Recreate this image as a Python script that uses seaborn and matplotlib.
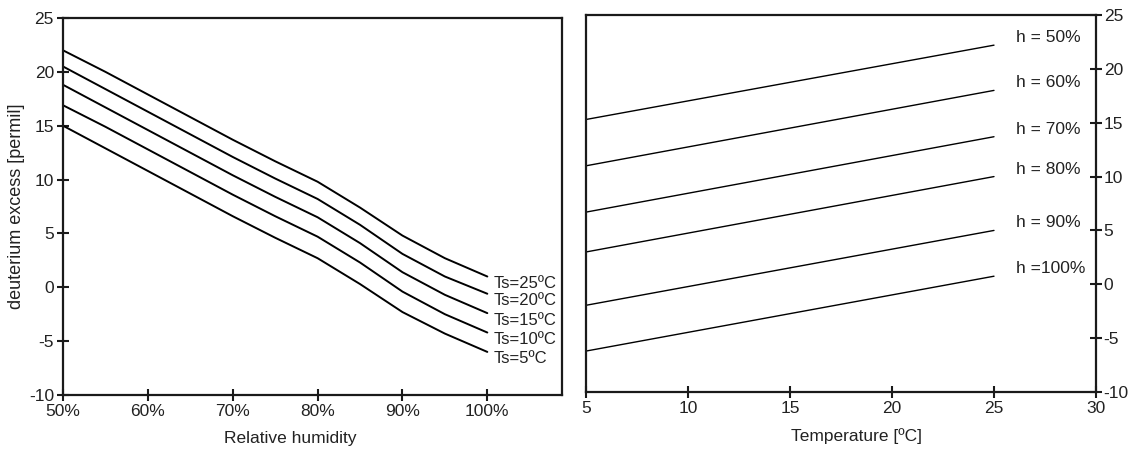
import pandas as pd
import seaborn as sns
import matplotlib
matplotlib.use("Agg")
import matplotlib.pyplot as plt

# left panel: d-excess vs relative humidity for several sea surface temps
rh = [50, 55, 60, 65, 70, 75, 80, 85, 90, 95, 100]
ts_labels = ["Ts=25ºC", "Ts=20ºC", "Ts=15ºC", "Ts=10ºC", "Ts=5ºC"]
ts25 = [22.0, 20.0, 17.9, 15.8, 13.7, 11.7, 9.8, 7.4, 4.8, 2.7, 1.0]
ts20 = [20.5, 18.4, 16.3, 14.2, 12.1, 10.1, 8.2, 5.8, 3.1, 1.0, -0.6]
ts15 = [18.8, 16.7, 14.6, 12.5, 10.4, 8.4, 6.5, 4.1, 1.4, -0.7, -2.4]
ts10 = [16.9, 14.9, 12.8, 10.7, 8.6, 6.6, 4.7, 2.3, -0.4, -2.5, -4.2]
ts5 = [15.0, 12.9, 10.8, 8.7, 6.6, 4.6, 2.7, 0.3, -2.3, -4.3, -6.0]

# right panel: d-excess vs temperature for several humidities
temp = [5, 25]
h_labels = ["h = 50%", "h = 60%", "h = 70%", "h = 80%", "h = 90%", "h =100%"]
h50 = [15.3, 22.2]
h60 = [11.0, 18.0]
h70 = [6.7, 13.7]
h80 = [3.0, 10.0]
h90 = [-1.95, 5.0]
h100 = [-6.2, 0.75]

rh_ticks = [50, 60, 70, 80, 90, 100]
rh_ticklabels = ["50%", "60%", "70%", "80%", "90%", "100%"]

sns.set_style("ticks")
plt.rcParams["font.family"] = ["Liberation Sans", "DejaVu Sans"]
plt.rcParams["axes.unicode_minus"] = False

left_rows = []
for lab, vals in zip(ts_labels, [ts25, ts20, ts15, ts10, ts5]):
    for x, y in zip(rh, vals):
        left_rows.append({"rh": x, "dex": y, "Ts": lab})
df_left = pd.DataFrame(left_rows)

right_rows = []
for lab, vals in zip(h_labels, [h50, h60, h70, h80, h90, h100]):
    for x, y in zip(temp, vals):
        right_rows.append({"T": x, "dex": y, "h": lab})
df_right = pd.DataFrame(right_rows)

fig = plt.figure(figsize=(11.35, 4.49), dpi=100)
ax1 = fig.add_axes([63/1135, 1-395/449, (562-63)/1135, (395-18)/449])
ax2 = fig.add_axes([586/1135, 1-392/449, (1096-586)/1135, (392-15)/449])

sns.lineplot(data=df_left, x="rh", y="dex", hue="Ts", palette=["black"]*5,
             legend=False, ax=ax1, linewidth=1.4)
sns.lineplot(data=df_right, x="T", y="dex", hue="h", palette=["black"]*6,
             legend=False, ax=ax2, linewidth=1.0)

for lab, vals in zip(ts_labels, [ts25, ts20, ts15, ts10, ts5]):
    ax1.text(100.8, vals[-1]-0.65, lab, fontsize=12, va="center", ha="left",
             color="#222222")
for lab, vals in zip(h_labels, [h50, h60, h70, h80, h90, h100]):
    ax2.text(26.1, vals[-1]+0.7, lab, fontsize=12.5, va="center", ha="left",
             color="#222222")

ax1.set_xlim(50, 108.8)
ax1.set_ylim(-10, 25)
ax1.set_xticks(rh_ticks)
ax1.set_xticklabels(rh_ticklabels)
ax1.set_yticks(range(-10, 26, 5))
ax1.set_xlabel("Relative humidity", fontsize=12.5, color="#222222")
ax1.set_ylabel("deuterium excess [permil]", fontsize=13, color="#222222")
ax1.xaxis.set_label_coords(0.455, -0.095)
ax1.yaxis.set_label_coords(-0.076, 0.5)

ax2.set_xlim(5, 30)
ax2.set_ylim(-10, 25)
ax2.set_xticks(range(5, 31, 5))
ax2.set_yticks(range(-10, 26, 5))
ax2.yaxis.tick_right()
ax2.set_xlabel("Temperature [ºC]", fontsize=12.5, color="#222222")
ax2.set_ylabel("")
ax2.xaxis.set_label_coords(0.53, -0.095)

for ax in (ax1, ax2):
    for s in ax.spines.values():
        s.set_visible(True)
        s.set_linewidth(1.6)
        s.set_color("#1a1a1a")
    ax.tick_params(direction="inout", length=9, width=1.5, labelsize=12.5,
                   pad=2, colors="#1a1a1a", labelcolor="#222222")
ax2.tick_params(axis="y", pad=1)

fig.savefig("out.png", dpi=100)
